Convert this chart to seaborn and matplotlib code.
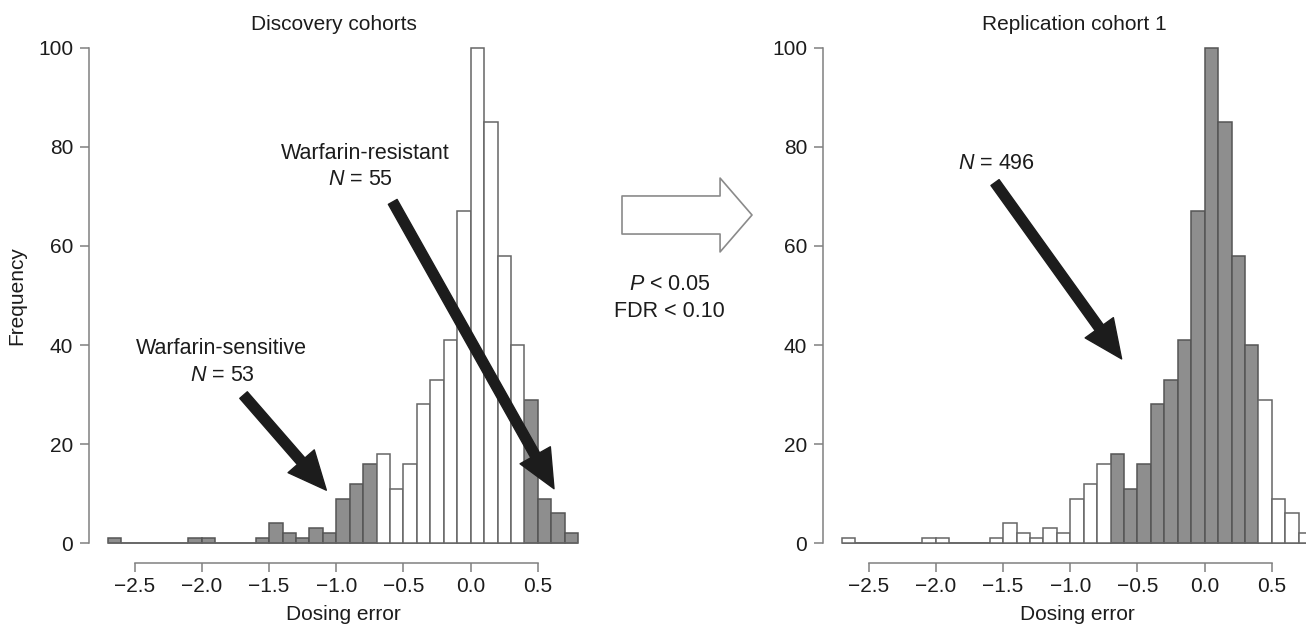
import numpy as np
import pandas as pd
import matplotlib
matplotlib.use("Agg")
import matplotlib.pyplot as plt
from matplotlib.patches import FancyArrowPatch
import seaborn as sns

# dosing error histogram, bins of width 0.1 from -2.7 to 0.8
bin_edges = [round(i / 10, 1) for i in range(-27, 9)]
counts = [1, 0, 0, 0, 0, 0, 1, 1, 0, 0, 0, 1, 4, 2, 1, 3, 2, 9, 12, 16,
          18, 11, 16, 28, 33, 41, 67, 100, 85, 58, 40, 29, 9, 6, 2]
sensitive_cut = -0.7   # discovery: bins left of this are warfarin-sensitive
resistant_cut = 0.4    # discovery: bins from this on are warfarin-resistant

x_ticks = [-2.5, -2.0, -1.5, -1.0, -0.5, 0.0, 0.5]
y_ticks = [0, 20, 40, 60, 80, 100]

titles = ["Discovery cohorts", "Replication cohort 1"]

sns.set_theme(style="ticks")
plt.rcParams["font.family"] = ["Liberation Sans", "DejaVu Sans"]
plt.rcParams["mathtext.fontset"] = "custom"
plt.rcParams["mathtext.rm"] = "Liberation Sans"
plt.rcParams["mathtext.it"] = "Liberation Sans:italic"

TXT = "#1c1c1c"
GREY = "#8e8e8e"
GREY_EDGE = "#555555"
WHITE_EDGE = "#666666"
AXIS = "#808080"
FS = 15
FS_NOTE = 15.5

df = pd.DataFrame({"left": bin_edges[:-1], "count": counts})
df["mid"] = df["left"] + 0.05
df["extreme"] = (df["left"] < sensitive_cut) | (df["left"] >= resistant_cut)

W, H = 1306, 626
fig = plt.figure(figsize=(W / 100, H / 100), dpi=100)
ax1 = fig.add_axes([89 / W, 63 / H, 508 / W, 535 / H])
ax2 = fig.add_axes([823 / W, 63 / H, 508 / W, 535 / H])


def draw_hist(ax, grey_mask):
    for mask, fc, ec in [(grey_mask, GREY, GREY_EDGE), (~grey_mask, "white", WHITE_EDGE)]:
        sub = df[mask]
        sns.histplot(data=sub, x="mid", weights="count", bins=bin_edges,
                     color=fc, edgecolor=ec, linewidth=1.1, alpha=1, ax=ax)
    ax.set_xlim(-2.84, 0.94)
    ax.set_ylim(-4, 104)
    ax.set_xticks(x_ticks)
    ax.set_yticks(y_ticks)
    ax.set_xticklabels([f"{t:.1f}".replace("-", "\u2212") for t in x_ticks])
    for s in ["top", "right"]:
        ax.spines[s].set_visible(False)
    ax.spines["left"].set_bounds(0, 100)
    ax.spines["bottom"].set_bounds(-2.5, 0.5)
    for s in ["left", "bottom"]:
        ax.spines[s].set_color(AXIS)
        ax.spines[s].set_linewidth(1.1)
    ax.tick_params(axis="both", direction="out", length=6.5, width=1.1,
                   color=AXIS, labelsize=FS, labelcolor=TXT)
    ax.tick_params(axis="x", pad=3.4)
    ax.tick_params(axis="y", pad=5)
    ax.set_ylabel("")
    ax.set_xlabel("Dosing error", fontsize=FS, color=TXT, va="center")
    ax.xaxis.set_label_coords(0.5, -0.097)
    ax.set_facecolor("white")


draw_hist(ax1, df["extreme"].values)
draw_hist(ax2, ~df["extreme"].values)

ax1.set_ylabel("Frequency", fontsize=FS, color=TXT, va="center")
ax1.yaxis.set_label_coords(-0.142, 0.5)

fig.text(334 / W, 1 - 30 / H, titles[0], ha="center", va="baseline", fontsize=FS, color=TXT)
fig.text(1074 / W, 1 - 30 / H, titles[1], ha="center", va="baseline", fontsize=FS, color=TXT)

arrow_kw = dict(arrowstyle="simple,head_width=1.25,head_length=1.38,tail_width=0.36",
                mutation_scale=20, color="#1c1c1c", shrinkA=0, shrinkB=0)

# left panel annotations
ax1.text(-0.785, 78.7, "Warfarin-resistant", ha="center", va="center", fontsize=FS_NOTE, color=TXT)
ax1.text(-0.82, 73.5, "$N$ = 55", ha="center", va="center", fontsize=FS_NOTE, color=TXT)
ax1.annotate("", xy=(0.62, 11), xytext=(-0.58, 68.9), arrowprops=arrow_kw)

ax1.text(-1.853, 39.3, "Warfarin-sensitive", ha="center", va="center", fontsize=FS_NOTE, color=TXT)
ax1.text(-1.85, 33.9, "$N$ = 53", ha="center", va="center", fontsize=FS_NOTE, color=TXT)
ax1.annotate("", xy=(-1.074, 10.7), xytext=(-1.69, 29.9), arrowprops=arrow_kw)

# right panel annotation
ax2.text(-1.548, 76.7, "$N$ = 496", ha="center", va="center", fontsize=FS_NOTE, color=TXT)
ax2.annotate("", xy=(-0.618, 37.2), xytext=(-1.56, 72.8), arrowprops=arrow_kw)

# hollow arrow between the panels
big = FancyArrowPatch((622 / W, 1 - 215 / H), (752 / W, 1 - 215 / H),
                      transform=fig.transFigure,
                      arrowstyle="simple,head_width=2.66,head_length=1.15,tail_width=1.37",
                      mutation_scale=20, facecolor="white", edgecolor="#8a8a8a",
                      linewidth=1.2, shrinkA=0, shrinkB=0)
fig.add_artist(big)
fig.text(670 / W, 1 - 285 / H, "$P$ < 0.05", ha="center", va="center", fontsize=FS_NOTE, color=TXT)
fig.text(669 / W, 1 - 311 / H, "FDR < 0.10", ha="center", va="center", fontsize=FS_NOTE, color=TXT)

fig.savefig("out.png", dpi=100, facecolor="white")
